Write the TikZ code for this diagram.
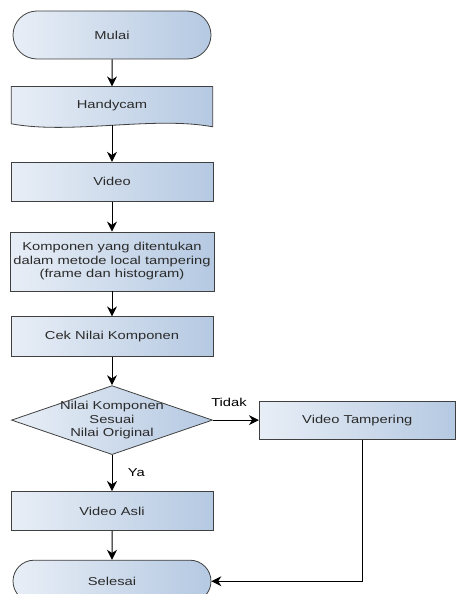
\documentclass[tikz,border=0pt]{standalone}
\usepackage{fontspec}
\setmainfont{Liberation Sans}[FakeStretch=1.28]
\usetikzlibrary{arrows.meta,positioning,shapes.geometric,shapes.misc,backgrounds}
\definecolor{boxleft}{HTML}{E8EEF6}
\definecolor{boxright}{HTML}{B5C9E2}
\definecolor{boxline}{HTML}{404040}
\definecolor{txt}{HTML}{2B2B2B}

\begin{document}
\begin{tikzpicture}[
  font=\fontsize{11.5}{13.5}\selectfont,
  box/.style={draw=boxline,line width=0.8pt,left color=boxleft,right color=boxright,text=txt,align=center,minimum width=202pt,minimum height=39pt,inner sep=2pt},
  term/.style={box,rounded rectangle,minimum height=48pt},
  docbox/.style={align=center,text=txt,minimum width=201pt,minimum height=38pt,inner sep=2pt},
  decide/.style={box,diamond,aspect=2.9,inner sep=-3pt,minimum width=201pt,minimum height=69pt},
  arr/.style={-{Stealth[length=10pt,width=10pt]},line width=1pt}
]
\useasboundingbox (0,0) rectangle (460pt,-594pt);
\node[term] (mulai) at (112pt,-35pt) {Mulai};
\node[docbox,below=27pt of mulai] (handy) {Handycam};
\node[box,below=37pt of handy] (video) {Video};
\node[box,minimum width=204pt,minimum height=59pt,below=30pt of video] (komp) {Komponen yang ditentukan\\dalam metode local tampering\\(frame dan histogram)};
\node[box,minimum height=40pt,below=25pt of komp] (cek) {Cek Nilai Komponen};
\node[decide,below=28pt of cek] (cocok) {Nilai Komponen\\Sesuai\\Nilai Original};
\node[box,below=36pt of cocok] (asli) {Video Asli};
\node[term,minimum height=42pt,below=29pt of asli] (selesai) {Selesai};
\node[box,minimum width=196pt,minimum height=38pt,right=46pt of cocok] (tamper) {Video Tampering};
% document shape behind Handycam
\begin{pgfonlayer}{background}
\path[draw=boxline,line width=0.8pt,left color=boxleft,right color=boxright]
  (handy.north west) -- (handy.north east) -- ([yshift=-2pt]handy.south east)
  .. controls ([xshift=-60pt,yshift=9pt]handy.south east) and ([xshift=60pt,yshift=-10pt]handy.south west)
  .. ([yshift=1pt]handy.south west) -- cycle;
\end{pgfonlayer}
\draw[arr] (mulai) -- (handy);
\draw[arr] (handy) -- (video);
\draw[arr] (video) -- (komp);
\draw[arr] (komp) -- (cek);
\draw[arr] (cek) -- (cocok);
\draw[arr] (cocok) -- node[right=12pt]{Ya} (asli);
\draw[arr] (cocok) -- node[above=10pt,pos=0.35]{Tidak} (tamper);
\draw[arr] (asli) -- (selesai);
\draw[arr] ([xshift=5pt]tamper.south) |- (selesai);
\end{tikzpicture}
\end{document}
